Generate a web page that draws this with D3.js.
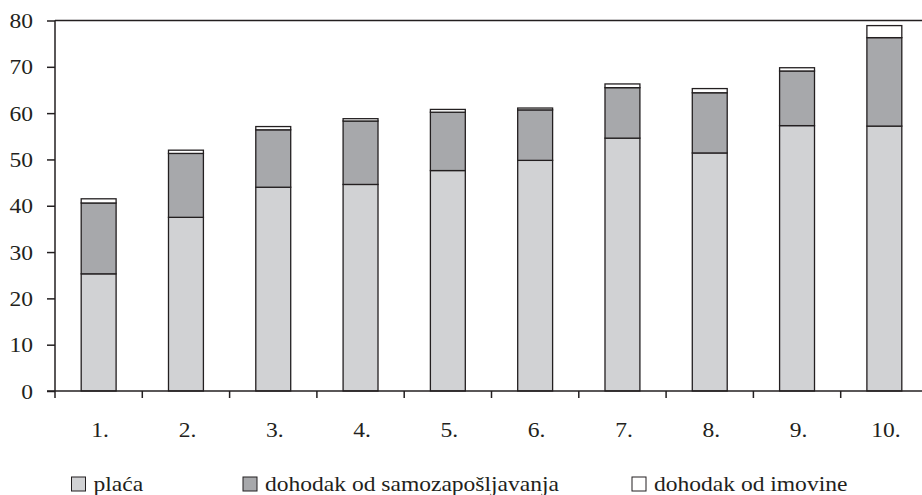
<!DOCTYPE html>
<html>
<head>
<meta charset="utf-8">
<script src="https://cdn.jsdelivr.net/npm/d3@7"></script>
<style>
	body { margin: 0; background: #fff; }
	svg { display: block; }
	text { font-family: "Liberation Serif", "DejaVu Serif", serif; fill: #231f20; font-size: 22px; }
</style>
</head>
<body>
<div id="container"></div>
<script>
var categories = ["1.", "2.", "3.", "4.", "5.", "6.", "7.", "8.", "9.", "10."];
var placa = [25.3, 37.5, 44.0, 44.6, 47.6, 49.8, 54.6, 51.4, 57.3, 57.2];
var samozaposljavanje = [15.3, 13.8, 12.4, 13.7, 12.6, 10.9, 10.9, 13.0, 11.8, 19.1];
var imovina = [0.9, 0.7, 0.7, 0.5, 0.6, 0.4, 0.8, 0.9, 0.7, 2.6];
var seriesNames = ["plaća", "dohodak od samozapošljavanja", "dohodak od imovine"];
var yTicks = [0, 10, 20, 30, 40, 50, 60, 70, 80];

var width = 922,
	height = 495,
	plotLeft = 55,
	plotRight = 928,
	plotTop = 20.5,
	plotBottom = 391,
	stretch = 1.07; // the type in the original is a bit wide

var colour = ["#d1d2d4", "#a7a8ab", "#ffffff"];
var ink = "#231f20";

// table for d3.stack
var rows = categories.map(function(c, i){
	return { cat: c, s0: placa[i], s1: samozaposljavanje[i], s2: imovina[i] };
});
var stacked = d3.stack().keys(["s0", "s1", "s2"])(rows);

var yScale = d3.scaleLinear()
	.domain([0, 80])
	.range([plotBottom, plotTop])

var xScale = d3.scaleBand()
	.domain(categories)
	.range([plotLeft, plotRight])
	.paddingInner(0.6)
	.paddingOuter(0.3)

var xEdges = d3.scaleLinear()
	.domain([0, categories.length])
	.range([plotLeft, plotRight])

var svg = d3.select("#container")
	.append('svg')
		.attr("width", width)
		.attr("height", height)

function label(g, x, y, anchor, str){
	g.append("g")
		.attr("transform", "translate(" + x + "," + y + ") scale(" + stretch + ",1)")
		.append("text")
			.attr("text-anchor", anchor)
			.text(str);
}

// bars
svg.selectAll("g.layer")
	.data(stacked)
	.enter().append("g")
		.attr("class", "layer")
		.style("fill", function(d, i){ return colour[i] })
		.selectAll("rect")
			.data(function(d){ return d })
			.enter().append("rect")
			.attr("x", function(d){ return xScale(d.data.cat) })
			.attr("width", xScale.bandwidth())
			.attr("y", function(d){ return yScale(d[1]) })
			.attr("height", function(d){ return yScale(d[0]) - yScale(d[1]) })
			.style("stroke", ink)
			.style("stroke-width", 1.3);

// top frame line
svg.append("line")
	.attr("x1", plotLeft).attr("x2", plotRight)
	.attr("y1", yScale(80)).attr("y2", yScale(80))
	.style("stroke", ink).style("stroke-width", 1.5);

// y axis (labels drawn separately so they can be widened)
var yAxis = svg.append("g")
	.attr("transform", "translate(" + plotLeft + ",0)")
	.call(d3.axisLeft(yScale).tickValues(yTicks).tickSize(8).tickFormat(""));
yAxis.select(".domain").attr("d", "M0," + yScale(80) + "V" + (plotBottom + 7));
yAxis.selectAll("path, line").style("stroke", ink).style("stroke-width", 1.5);

yTicks.forEach(function(t){
	label(svg, 33, yScale(t) + 7.5, "end", t);
});

// x axis: line and ticks at band edges
svg.append("line")
	.attr("x1", plotLeft - 8).attr("x2", plotRight)
	.attr("y1", plotBottom).attr("y2", plotBottom)
	.style("stroke", ink).style("stroke-width", 1.5);
svg.selectAll("line.xtick")
	.data(d3.range(1, categories.length + 1))
	.enter().append("line")
	.attr("class", "xtick")
	.attr("x1", function(d){ return xEdges(d) })
	.attr("x2", function(d){ return xEdges(d) })
	.attr("y1", plotBottom).attr("y2", plotBottom + 7)
	.style("stroke", ink).style("stroke-width", 1.5);

categories.forEach(function(c){
	label(svg, xScale(c) + xScale.bandwidth() / 2 + 1.5, 437, "middle", c);
});

// legend
var legendX = [71.5, 243, 632];
seriesNames.forEach(function(name, i){
	svg.append("rect")
		.attr("x", legendX[i]).attr("y", 477)
		.attr("width", 14).attr("height", 14)
		.style("fill", colour[i])
		.style("stroke", ink).style("stroke-width", 1);
	label(svg, legendX[i] + 22, 490.5, "start", name);
});
</script>
</body>
</html>
